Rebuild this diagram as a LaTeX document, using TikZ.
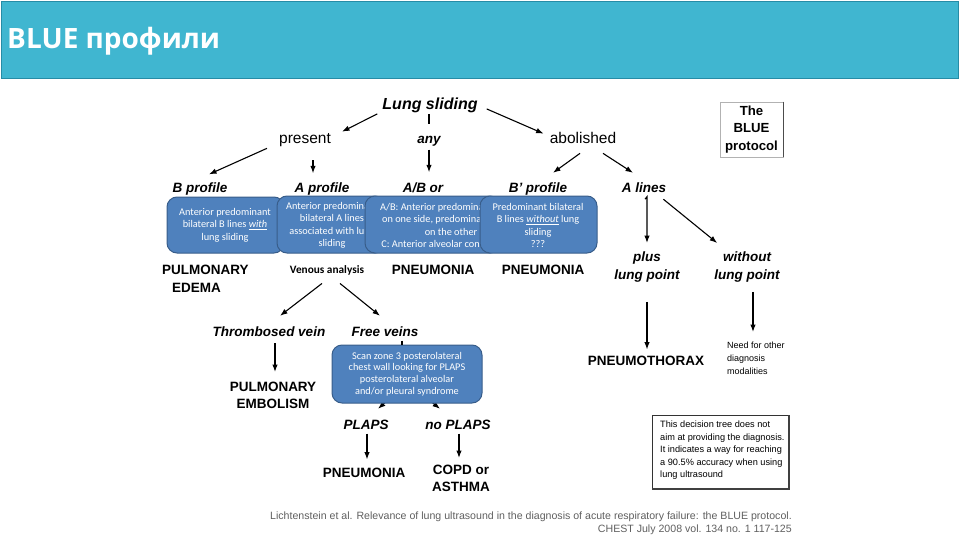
\documentclass[tikz,border=0pt]{standalone}
\usepackage{fontspec}
\setmainfont{Liberation Sans}
\newfontfamily\calfont{Carlito}
\newfontfamily\titlefont{Open Sans}
\usetikzlibrary{arrows.meta,backgrounds}

\definecolor{barblue}{RGB}{64,182,208}
\definecolor{barline}{RGB}{38,140,166}
\definecolor{boxblue}{RGB}{79,129,189}
\definecolor{boxline}{RGB}{56,93,138}
\definecolor{citegray}{RGB}{95,95,95}

\tikzset{
  lbl/.style={font=\fontsize{13.5}{16}\selectfont\bfseries\itshape, inner sep=1pt, text height=10pt, text depth=3pt},
  dx/.style={font=\fontsize{13.5}{17.5}\selectfont\bfseries, inner sep=1pt, align=center},
  branch/.style={font=\fontsize{15.5}{18}\selectfont, inner sep=1pt, text height=11pt, text depth=3.3pt},
  bluebox/.style={draw=boxline, fill=boxblue, line width=1pt, rounded corners=10pt, inner sep=0pt},
  boxtext/.style={font=\calfont\fontsize{10.3}{12.4}\selectfont, text=white, align=center, inner sep=0pt},
  arr/.style={-{Latex[length=7.5pt,width=5.5pt]}, line width=1.1pt},
  link/.style={line width=1.1pt},
  small/.style={font=\fontsize{9.2}{12.5}\selectfont, align=left, inner sep=1pt}
}

\begin{document}
\begin{tikzpicture}[x=1pt, y=-1pt]
  \useasboundingbox (0,0) rectangle (960,540);
  % title bar
  \node[draw=barline, fill=barblue, line width=1.2pt, minimum width=957pt, minimum height=77pt, anchor=north west, inner sep=0pt] (bar) at (1,1) {};
  \node[anchor=base west, text=white, font=\titlefont\bfseries\fontsize{28}{30}\selectfont, inner sep=0pt] (title) at (7,49) {BLUE профили};

  % top of the tree
  \node[lbl, font=\fontsize{16}{18}\selectfont\bfseries\itshape, text height=12pt, text depth=3.5pt] (lung) at (430,105) {Lung sliding};
  \node[branch] (present) at (305,140) {present};
  \node[lbl] (any) at (429,140) {any};
  \node[branch] (abol) at (583,140) {abolished};
  \node[draw=black!30, line width=0.6pt, minimum width=63pt, minimum height=55pt, align=center, font=\fontsize{13.2}{17.5}\selectfont\bfseries, inner sep=0pt] (blue) at (751.5,129.5) {The\\BLUE\\protocol};
  \draw[line width=1.2pt, black!70] (blue.north east) -- (blue.south east);

  % profiles
  \node[lbl] (bprof) at (200,189) {B profile};
  \node[lbl] (aprof) at (322,189) {A profile};
  \node[lbl] (abor) at (423,189) {A/B or};
  \node[lbl] (bpprof) at (538,189) {B’ profile};
  \node[lbl] (alines) at (644,189) {A lines};

  % arrows from lung sliding
  \draw[arr] ([xshift=-4pt]lung.south west) -- ([xshift=10pt]present.north east);
  \draw[link] (lung.south -| any) -- ([yshift=8.5pt]any.north);
  \draw[arr] ([xshift=8pt,yshift=5pt]lung.south east) -- ([xshift=-5pt,yshift=-2pt]abol.north west);
  \draw[arr] ([xshift=-11pt]present.south west) -- ([xshift=9pt,yshift=7pt]bprof.north);
  \draw[arr] ([xshift=8pt,yshift=-12pt]present.south) -- ([xshift=-9pt,yshift=8pt]aprof.north);
  \draw[arr] ([yshift=-2pt]any.south) -- ([yshift=9pt]any.south |- abor.north);
  \draw[arr] ([xshift=-3pt,yshift=-5pt]abol.south) -- ([xshift=15pt,yshift=8.5pt]bpprof.north);
  \draw[arr] ([xshift=20pt,yshift=-5pt]abol.south) -- ([xshift=-11pt,yshift=8.5pt]alines.north);

  % blue boxes, each one over the last
  \node[bluebox, minimum width=117pt, minimum height=56pt] (boxb) at (225.5,225) {};
  \node[boxtext] (txtb) at (225,225) {Anterior predominant\\bilateral B lines \underline{\textit{with}}\\lung sliding};
  \node[bluebox, minimum width=108pt, minimum height=57pt] (boxa) at (331,224.5) {};
  \node[boxtext] (txta) at (332,225.5) {Anterior predominant\\bilateral A lines\\associated with lung\\sliding};
  \node[bluebox, minimum width=135pt, minimum height=57pt] (boxab) at (432.5,224.5) {};
  \node[boxtext] (txtab) at (451,225.5) {A/B: Anterior predominant B lines\\on one side, predominant A lines\\on the other\\C: Anterior alveolar consolidation};
  \node[bluebox, minimum width=117pt, minimum height=57pt] (boxbp) at (538.5,224.5) {};
  \node[boxtext] (txtbp) at (538,225.5) {Predominant bilateral\\B lines \underline{\textit{without}} lung\\sliding\\???};

  % outcomes of the profiles
  \node[dx, align=left, anchor=north west] (edema) at (161,264) {PULMONARY\\\hspace*{10pt}EDEMA};
  \node[font=\calfont\bfseries\fontsize{11.3}{12}\selectfont, inner sep=1pt, text height=8pt, text depth=2.5pt] (venous) at (327,271) {Venous analysis};
  \node[dx] (pneu1) at (433,270) {PNEUMONIA};
  \node[dx] (pneu2) at (543,270) {PNEUMONIA};

  % A lines branch
  \node[lbl, align=center, font=\fontsize{13.5}{18}\selectfont\bfseries\itshape, text height=, text depth=, anchor=north] (plus) at (647,251) {plus\\lung point};
  \node[lbl, align=center, font=\fontsize{13.5}{18}\selectfont\bfseries\itshape, text height=, text depth=, anchor=north] (without) at (747,251) {without\\lung point};
  \node[dx] (ptx) at (646,361) {PNEUMOTHORAX};
  \node[small, font=\fontsize{9}{13}\selectfont, anchor=north west] (need) at (726,341) {Need for other\\diagnosis\\modalities};
  \draw[arr] ([xshift=1pt,yshift=-2.5pt]alines.south) -- (alines.south -| plus) -- ([yshift=8pt]plus.north);
  \draw[arr] ([xshift=-4pt,yshift=-2.5pt]alines.south east) -- ([xshift=4pt,yshift=8pt]without.north west);
  \draw[arr] ([yshift=-18pt]plus.south) -- ([yshift=5.5pt]plus.south |- ptx.north);
  \draw[arr] ([xshift=6pt,yshift=-8pt]without.south) -- ([xshift=6pt,yshift=9pt]without.south |- need.north);

  % venous analysis
  \node[lbl] (thromb) at (269,333) {Thrombosed vein};
  \node[lbl] (free) at (385,333) {Free veins};
  \node[dx, anchor=north, font=\fontsize{13.5}{16.5}\selectfont\bfseries] (pe) at (273,381) {PULMONARY\\EMBOLISM};
  \draw[arr] ([xshift=-5pt,yshift=-6pt]venous.south) -- ([xshift=11pt,yshift=9.5pt]thromb.north);
  \draw[arr] ([xshift=13pt,yshift=-6pt]venous.south) -- ([xshift=-5pt,yshift=9.5pt]free.north);
  \draw[arr] ([xshift=6pt,yshift=-2.5pt]thromb.south) -- ([xshift=2pt,yshift=9pt]pe.north);

  % PLAPS
  \node[bluebox, boxtext, font=\calfont\fontsize{10.3}{11.8}\selectfont, minimum width=150pt, minimum height=58pt] (scan) at (407,374) {Scan zone 3 posterolateral\\chest wall looking for PLAPS\\posterolateral alveolar\\and/or pleural syndrome};
  \draw[link] ([xshift=17pt]free.south) -- ([xshift=-5pt]scan.north);
  \node[lbl] (plaps) at (366,426) {PLAPS};
  \node[lbl] (noplaps) at (458,426) {no PLAPS};
  \node[dx] (pneu3) at (364,473) {PNEUMONIA};
  \node[dx, anchor=north, font=\fontsize{13.5}{17}\selectfont\bfseries] (copd) at (461,464) {COPD or\\ASTHMA};
  \begin{scope}[on background layer]
    \draw[arr] ([xshift=10pt]scan.center) -- ([xshift=12pt,yshift=9.5pt]plaps.north);
    \draw[arr] ([xshift=-10pt]scan.center) -- ([xshift=-18pt,yshift=9.5pt]noplaps.north);
  \end{scope}
  \draw[arr] ([xshift=1pt]plaps.south) -- ([xshift=1pt,yshift=7.5pt]plaps.south |- pneu3.north);
  \draw[arr] ([xshift=1pt]noplaps.south) -- ([xshift=1pt,yshift=6pt]noplaps.south |- copd.north);

  % note and reference
  \node[draw=black!80, line width=0.8pt, minimum width=136pt, minimum height=73pt, anchor=north west, inner sep=0pt] (note) at (652,415) {};
  \draw[line width=1.6pt, black!75] (note.north east) -- (note.south east) -- (note.south west);
  \node[small, anchor=north west] (notetext) at (659,420) {This decision tree does not\\aim at providing the diagnosis.\\It indicates a way for reaching\\a 90.5\% accuracy when using\\lung ultrasound};
  \node[font=\fontsize{10.6}{12.5}\selectfont, text=citegray, align=right, anchor=north east, inner sep=0pt] (cite) at (792,512) {Lichtenstein et al. Relevance of lung ultrasound in the diagnosis of acute respiratory failure: the BLUE protocol.\\CHEST July 2008 vol. 134 no. 1 117-125};
\end{tikzpicture}
\end{document}
